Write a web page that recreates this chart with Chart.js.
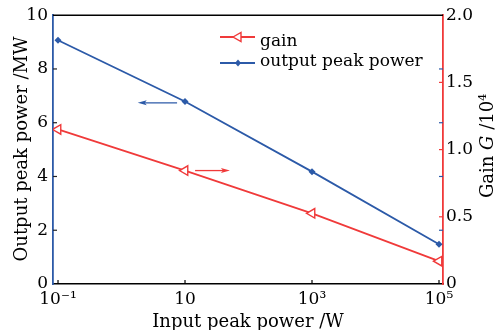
<!DOCTYPE html>
<html>
<head>
<meta charset="utf-8">
<script src="https://cdn.jsdelivr.net/npm/chart.js@4"></script>
<style>
  html, body { margin: 0; padding: 0; background: #fff; }
  #wrap { width: 495px; height: 330px; }
</style>
</head>
<body>
<div id="wrap"><canvas id="gainChart"></canvas></div>
<script>
// 입력 피크 파워 (W)
const inputPower = [0.1, 10, 1000, 100000];
const outputPower = [9.07, 6.79, 4.18, 1.48];   // MW
const gainValues = [1.15, 0.844, 0.526, 0.17];  // x10^4

const xTicks = [0.1, 10, 1000, 100000];
const xTickLabels = ['10⁻¹', '10', '10³', '10⁵'];
const rightTickLabels = ['0', '0.5', '1.0', '1.5', '2.0'];

// 화살표 (데이터 좌표)
const arrows = [
    { y: 6.74, from: 7.5, to: 1.8, color: '#2c5aa8' },
    { y: 4.22, from: 14.4, to: 51, color: '#f03a3a' }
];

const RED = '#f03a3a';
const BLUE = '#2c5aa8';
const FONT = '"DejaVu Serif", serif';

const framePlugin = {
    id: 'frame',
    afterDraw(chart) {
        const c = chart.ctx;
        const a = chart.chartArea;
        const sx = chart.scales.x, sy = chart.scales.y, sy2 = chart.scales.y2;
        c.save();
        // 윗선
        c.strokeStyle = '#000';
        c.lineWidth = 1.5;
        c.beginPath();
        c.moveTo(a.left, a.top);
        c.lineTo(a.right, a.top);
        c.stroke();

        // 안쪽 눈금
        c.lineWidth = 1.2;
        c.strokeStyle = '#000';
        xTicks.forEach(v => {
            const px = sx.getPixelForValue(v);
            c.beginPath(); c.moveTo(px, a.bottom); c.lineTo(px, a.bottom - 4); c.stroke();
        });
        c.strokeStyle = '#222';
        [2, 4, 6, 8].forEach(v => {
            const py = sy.getPixelForValue(v);
            c.beginPath(); c.moveTo(a.left, py); c.lineTo(a.left + 4, py); c.stroke();
        });
        c.strokeStyle = BLUE;
        [2, 4, 6, 8].forEach(v => {
            const py = sy.getPixelForValue(v);
            c.beginPath(); c.moveTo(a.right, py); c.lineTo(a.right - 4, py); c.stroke();
        });
        c.strokeStyle = RED;
        [0.5, 1, 1.5].forEach(v => {
            const py = sy2.getPixelForValue(v);
            c.beginPath(); c.moveTo(a.right, py); c.lineTo(a.right - 4, py); c.stroke();
        });

        // 화살표
        arrows.forEach(ar => {
            const y = sy.getPixelForValue(ar.y);
            const x0 = sx.getPixelForValue(ar.from);
            const x1 = sx.getPixelForValue(ar.to);
            const dir = x1 > x0 ? 1 : -1;
            c.strokeStyle = ar.color;
            c.fillStyle = ar.color;
            c.lineWidth = 1.3;
            c.beginPath(); c.moveTo(x0, y); c.lineTo(x1 - dir * 5, y); c.stroke();
            c.beginPath();
            c.moveTo(x1, y);
            c.lineTo(x1 - dir * 9, y - 2.5);
            c.lineTo(x1 - dir * 7, y);
            c.lineTo(x1 - dir * 9, y + 2.5);
            c.closePath();
            c.fill();
        });

        // 범례
        const lx0 = 220, lx1 = 255;
        c.lineWidth = 1.8;
        c.strokeStyle = RED;
        c.beginPath(); c.moveTo(lx0, 37); c.lineTo(lx1, 37); c.stroke();
        c.lineWidth = 1.4;
        c.beginPath();
        c.moveTo(233, 37); c.lineTo(241, 32.5); c.lineTo(241, 41.5); c.closePath();
        c.fillStyle = '#fff'; c.fill(); c.stroke();
        c.lineWidth = 1.8;
        c.strokeStyle = BLUE;
        c.beginPath(); c.moveTo(lx0, 63); c.lineTo(lx1, 63); c.stroke();
        c.fillStyle = BLUE;
        c.beginPath();
        c.moveTo(238, 59.5); c.lineTo(241, 63); c.lineTo(238, 66.5); c.lineTo(235, 63); c.closePath();
        c.fill();
        c.fillStyle = '#000';
        c.font = '17px ' + FONT;
        c.textAlign = 'left';
        c.textBaseline = 'alphabetic';
        c.fillText('gain', 260, 45.5);
        c.fillText('output peak power', 260, 65.5);

        // 축 제목
        c.font = '18px ' + FONT;
        c.textAlign = 'center';
        c.textBaseline = 'middle';
        c.fillText('Input peak power /W', (a.left + a.right) / 2, 322);
        c.save();
        c.translate(22, 149);
        c.rotate(-Math.PI / 2);
        c.fillText('Output peak power /MW', 0, 0);
        c.restore();

        // Gain G /10⁴ (G 기울임)
        const parts = [
            { t: 'Gain ', f: '18px ' + FONT },
            { t: 'G', f: 'italic 18px ' + FONT },
            { t: ' /10', f: '18px ' + FONT },
            { t: '4', f: '11px ' + FONT, sup: true }
        ];
        let total = 0;
        parts.forEach(p => { c.font = p.f; p.w = c.measureText(p.t).width; total += p.w; });
        c.save();
        c.translate(487, 146);
        c.rotate(-Math.PI / 2);
        c.textAlign = 'left';
        c.textBaseline = 'alphabetic';
        let px = -total / 2;
        parts.forEach(p => {
            c.font = p.f;
            c.fillText(p.t, px, p.sup ? -1 : 6);
            px += p.w;
        });
        c.restore();
        c.restore();
    }
};

document.addEventListener('DOMContentLoaded', function() {
    const ctx = document.getElementById('gainChart');
    new Chart(ctx, {
        type: 'line',
        data: {
            datasets: [{
                label: 'gain',
                data: inputPower.map((x, i) => ({ x: x, y: gainValues[i] })),
                yAxisID: 'y2',
                borderColor: RED,
                backgroundColor: '#fff',
                borderWidth: 1.8,
                pointStyle: 'triangle',
                rotation: -90,
                pointRadius: 5.5,
                pointBorderWidth: 1.4,
                pointBackgroundColor: '#fff',
                tension: 0
            }, {
                label: 'output peak power',
                data: inputPower.map((x, i) => ({ x: x, y: outputPower[i] })),
                yAxisID: 'y',
                borderColor: BLUE,
                backgroundColor: BLUE,
                borderWidth: 1.8,
                pointStyle: 'rectRot',
                pointRadius: 3.5,
                pointBorderWidth: 0,
                pointBackgroundColor: BLUE,
                tension: 0
            }]
        },
        options: {
            responsive: true,
            maintainAspectRatio: false,
            animation: false,
            layout: { padding: { top: 15, left: 0, right: 0, bottom: 0 } },
            plugins: {
                legend: { display: false },
                tooltip: { enabled: false }
            },
            scales: {
                x: {
                    type: 'logarithmic',
                    min: Math.pow(10, -1.079),
                    max: Math.pow(10, 5.063),
                    afterBuildTicks: s => { s.ticks = xTicks.map(v => ({ value: v })); },
                    afterFit: s => { s.height = 46; },
                    ticks: {
                        autoSkip: false,
                        maxRotation: 0,
                        padding: 5,
                        color: '#000',
                        font: { family: FONT, size: 17 },
                        callback: v => xTickLabels[xTicks.indexOf(v)] ?? ''
                    },
                    grid: { drawOnChartArea: false, drawTicks: false },
                    border: { color: '#000', width: 1.5 }
                },
                y: {
                    position: 'left',
                    min: 0,
                    max: 10,
                    afterFit: s => { s.width = 53; },
                    ticks: {
                        stepSize: 2,
                        padding: 5,
                        color: '#000',
                        font: { family: FONT, size: 17 }
                    },
                    grid: { drawOnChartArea: false, drawTicks: false },
                    border: { color: BLUE, width: 1.8 }
                },
                y2: {
                    position: 'right',
                    min: 0,
                    max: 2,
                    afterFit: s => { s.width = 52; },
                    ticks: {
                        stepSize: 0.5,
                        padding: 3,
                        color: '#000',
                        font: { family: FONT, size: 17 },
                        callback: (v, i) => rightTickLabels[i]
                    },
                    grid: { drawOnChartArea: false, drawTicks: false },
                    border: { color: RED, width: 1.8 }
                }
            }
        },
        plugins: [framePlugin]
    });
});
</script>
</body>
</html>
